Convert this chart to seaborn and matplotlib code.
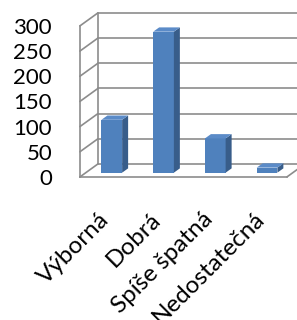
import seaborn as sns
import matplotlib.pyplot as plt
import matplotlib.transforms as mtransforms
from matplotlib.lines import Line2D
from matplotlib.patches import Polygon
import numpy as np
import pandas as pd

categories = ['Výborná', 'Dobrá', 'Spíše špatná', 'Nedostatečná']
counts = [105, 280, 68, 10]
y_ticks = [0, 50, 100, 150, 200, 250, 300]

df = pd.DataFrame({'kategorie': categories, 'pocet': counts})

sns.set_style('white')
plt.rcParams['font.family'] = ['Lato', 'DejaVu Sans']

fig = plt.figure(figsize=(2.97, 3.2), dpi=100)
ax = fig.add_axes([0.269, 0.447, 0.697, 0.472])

front = '#4F81BD'
side = '#385D8A'
top = '#5B8BC8'
grid = '#8C8C8C'

sns.barplot(data=df, x='kategorie', y='pocet', color=front, width=0.4,
            saturation=1, ax=ax, linewidth=0)
ax.set_xlim(-0.5, 3.5)
ax.set_ylim(0, 300)
ax.set_xlabel('')
ax.set_ylabel('')

# 3d look: wall depth and bar depth (pixels)
wall = np.array([18.0, 13.0])
bar_off = np.array([6.0, 4.3])
bar_depth = np.array([6.0, 4.3])

ident = mtransforms.IdentityTransform()


def px(x, y, d=0.0):
    return ax.transData.transform((x, y)) + d * wall


def line(p, q, **kw):
    ax.add_line(Line2D([p[0], q[0]], [p[1], q[1]], transform=ident,
                       color=grid, lw=1.2, clip_on=False, zorder=0, **kw))


x0, x1 = -0.5, 3.5
for t in y_ticks:
    line(px(x0, t), px(x0, t, 1))
    line(px(x0, t, 1), px(x1 + 1, t, 1))
line(px(x0, 0, 1), px(x0, 300, 1))
line(px(x1, 0), px(x1, 0, 1))

# shift bars back into the depth and add side / top faces
shift = mtransforms.ScaledTranslation(bar_off[0] / 100, bar_off[1] / 100,
                                      fig.dpi_scale_trans)
for p in list(ax.patches):
    bx, bw, bh = p.get_x(), p.get_width(), p.get_height()
    p.set_transform(ax.transData + shift)
    p.set_zorder(3)
    bl = ax.transData.transform((bx, 0)) + bar_off
    tr = ax.transData.transform((bx + bw, bh)) + bar_off
    br = np.array([tr[0], bl[1]])
    tl = np.array([bl[0], tr[1]])
    ax.add_patch(Polygon([br, tr, tr + bar_depth, br + bar_depth],
                         closed=True, transform=ident, color=side,
                         lw=0, zorder=3, clip_on=False))
    ax.add_patch(Polygon([tl, tr, tr + bar_depth, tl + bar_depth],
                         closed=True, transform=ident, color=top,
                         lw=0, zorder=3, clip_on=False))

for s in ['top', 'right']:
    ax.spines[s].set_visible(False)
for s in ['left', 'bottom']:
    ax.spines[s].set_color(grid)
    ax.spines[s].set_linewidth(1.2)

ax.set_yticks(y_ticks)
ax.tick_params(axis='y', length=6.5, width=1.2, color=grid, pad=13.5,
               labelsize=16, labelcolor='black')
ax.set_xticks(range(len(categories)))
ax.set_xticks(np.arange(-0.5, 4.0, 1), minor=True)
ax.tick_params(axis='x', which='major', length=0, pad=28,
               labelsize=17.5, labelcolor='black')
ax.tick_params(axis='x', which='minor', length=4, width=1.2, color=grid,
               direction='out')
for lab in ax.get_xticklabels():
    lab.set_rotation(45)
    lab.set_ha('right')
    lab.set_va('center')
    lab.set_rotation_mode('anchor')

fig.savefig('out.png', dpi=100)
